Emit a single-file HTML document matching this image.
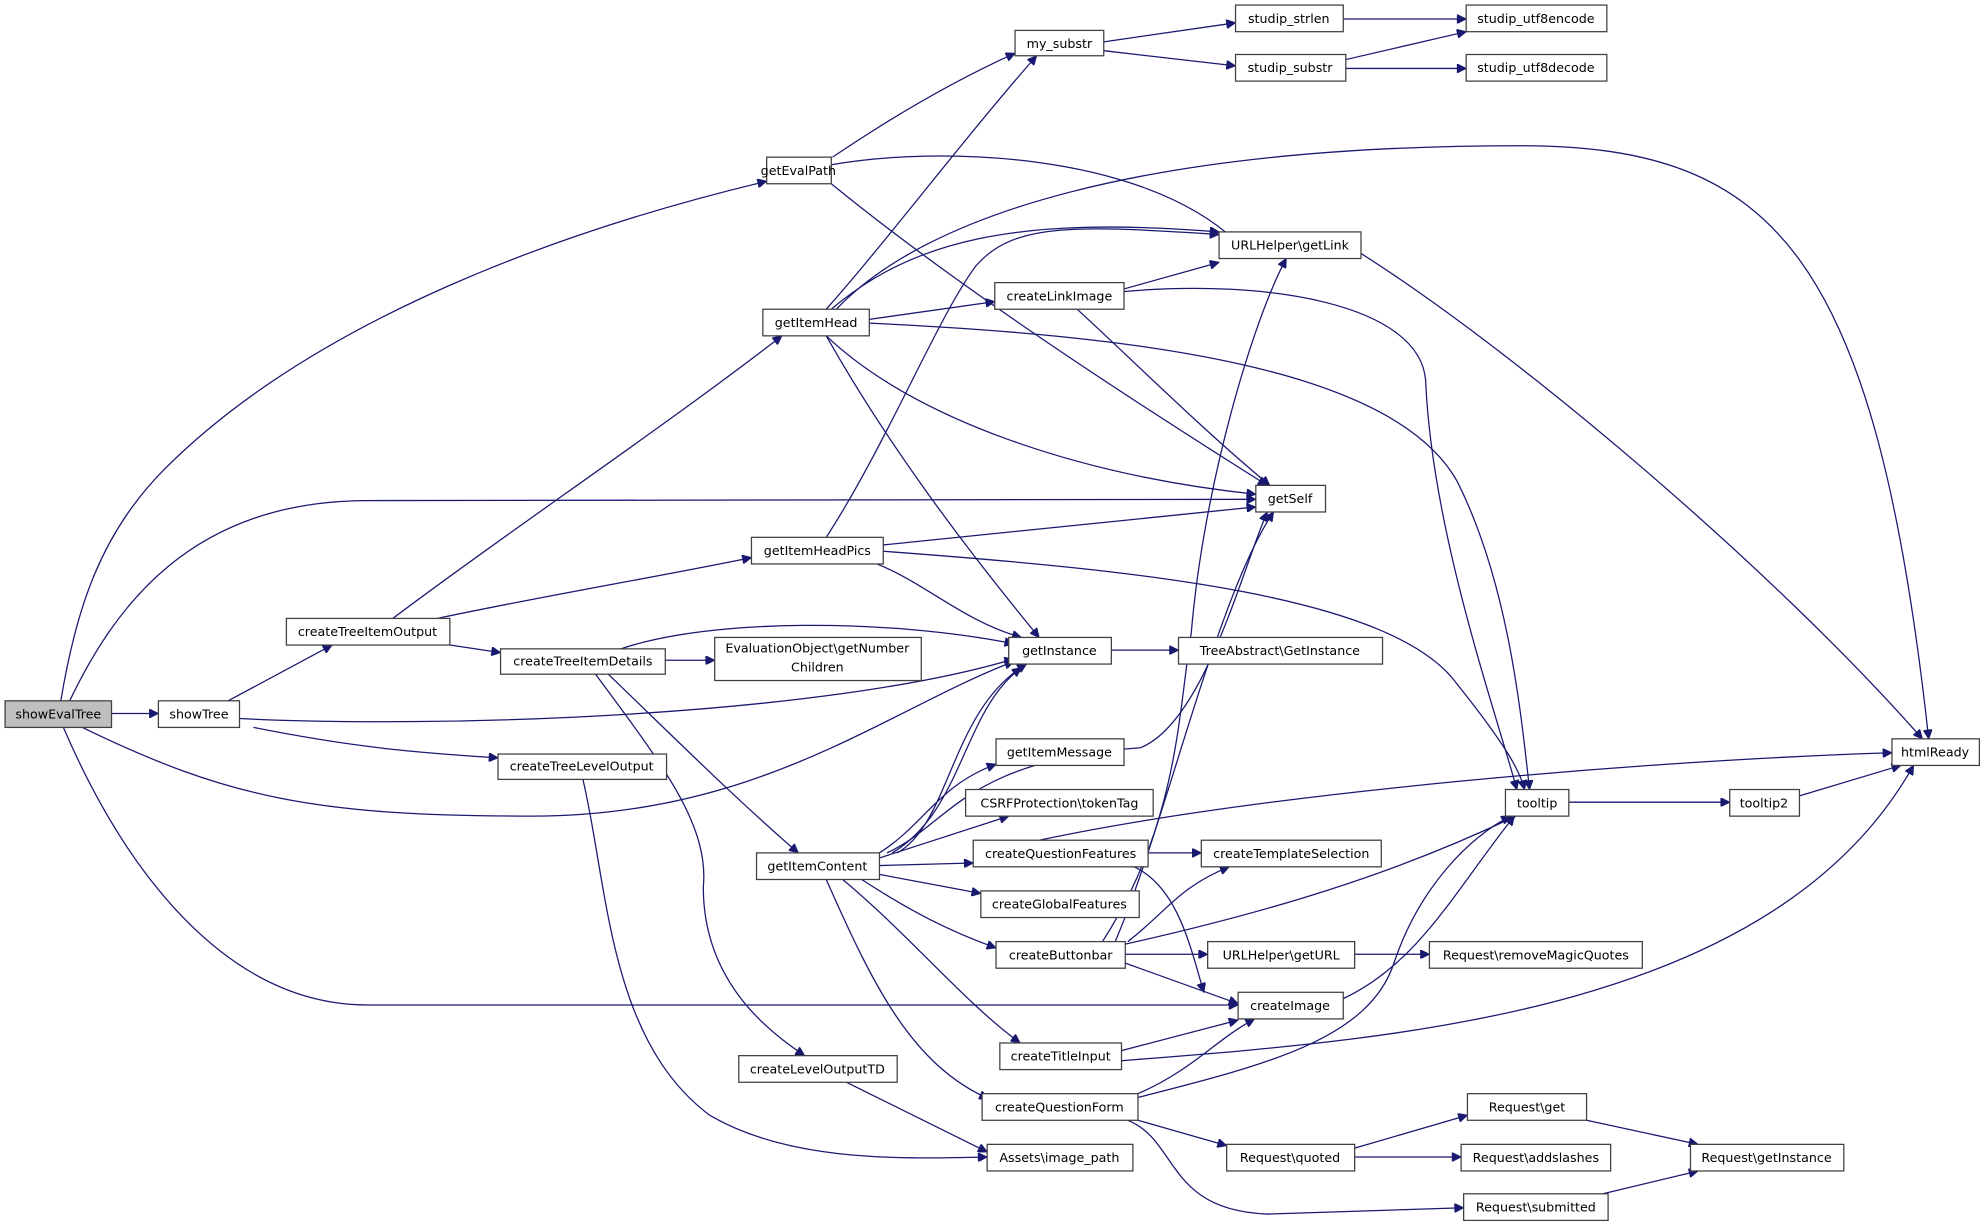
<!DOCTYPE html>
<html><head><meta charset="utf-8"><style>
html,body{margin:0;padding:0;background:#fff;}
svg{display:block;}
text{font-family:"DejaVu Sans","Liberation Sans",sans-serif;font-size:10px;fill:#000;text-anchor:middle;}
rect{fill:#fff;stroke:#404040;stroke-width:1;}
path{fill:none;stroke:#191970;stroke-width:1;}
</style></head><body>
<svg width="1987" height="1228" viewBox="0 0 1568 969" preserveAspectRatio="none" xmlns="http://www.w3.org/2000/svg">
<defs><marker id="a" viewBox="0 0 10 10" refX="10" refY="5" markerWidth="9" markerHeight="7" orient="auto" markerUnits="userSpaceOnUse"><path d="M0,0 L10,5 L0,10 z" style="fill:#191970;stroke:#191970"/></marker></defs>
<g marker-end="url(#a)">
<path d="M88,563 L125,563"/>
<path d="M48,553 C60,480 80,420 130,370 C250,250 450,180 605,143"/>
<path d="M55,553 C90,480 150,395 290,395 L991,394"/>
<path d="M65,574 C180,630 250,644 420,644 C600,644 700,560 800,522"/>
<path d="M50,574 C100,690 180,793 290,793 L977,793"/>
<path d="M180,553 L262,509"/>
<path d="M189,567 C350,575 650,565 800,520"/>
<path d="M200,574 C280,590 330,594 393,598"/>
<path d="M310,488 C400,420 520,340 617,265"/>
<path d="M345,488 C430,470 520,455 593,440"/>
<path d="M355,509 L395,515"/>
<path d="M490,512 C560,488 700,488 800,508"/>
<path d="M525,521 L564,521"/>
<path d="M480,532 C530,580 580,630 630,673"/>
<path d="M470,532 C520,600 560,650 555,700 C555,770 600,810 635,833"/>
<path d="M460,615 C480,700 480,820 560,880 C620,915 700,915 779,913"/>
<path d="M657,124 C700,95 750,65 801,42"/>
<path d="M656,130 C740,115 900,120 975,190"/>
<path d="M656,145 C760,230 900,320 1000,383"/>
<path d="M652,244 C700,190 760,110 818,44"/>
<path d="M660,244 C730,170 900,115 1200,115 C1400,115 1480,200 1522,583"/>
<path d="M656,244 C720,190 800,170 962,183"/>
<path d="M686,252 L785,238"/>
<path d="M686,255 C900,265 1100,290 1150,380 C1190,460 1200,560 1207,623"/>
<path d="M652,265 C720,330 850,375 991,390"/>
<path d="M652,265 C700,350 760,430 820,503"/>
<path d="M652,424 C700,350 740,250 770,210 C800,175 850,178 962,185"/>
<path d="M697,430 L991,400"/>
<path d="M692,445 C730,460 760,490 806,503"/>
<path d="M697,435 C900,450 1100,470 1150,540 C1190,590 1200,610 1203,623"/>
<path d="M871,33 L975,18"/>
<path d="M871,40 L975,52"/>
<path d="M1060,15 L1157,15"/>
<path d="M1062,47 L1157,25"/>
<path d="M1062,54 L1157,54"/>
<path d="M1074,200 C1200,280 1400,450 1517,583"/>
<path d="M887,228 L962,207"/>
<path d="M887,230 C1000,220 1120,240 1125,300 C1130,420 1180,560 1197,623"/>
<path d="M850,244 C900,290 950,340 1002,383"/>
<path d="M877,513 L930,513"/>
<path d="M708,673 C750,650 750,560 810,524"/>
<path d="M704,673 C760,640 760,560 806,527"/>
<path d="M700,673 C750,650 760,600 900,590 C950,570 980,450 1000,404"/>
<path d="M694,673 C730,650 740,620 786,603"/>
<path d="M694,677 L796,644"/>
<path d="M694,683 L768,681"/>
<path d="M694,690 L774,705"/>
<path d="M680,694 C720,720 750,735 786,748"/>
<path d="M665,694 C720,740 760,790 805,823"/>
<path d="M652,694 C690,780 720,840 780,867"/>
<path d="M820,663 C1000,625 1300,600 1493,594"/>
<path d="M906,673 L948,673"/>
<path d="M895,684 C930,700 940,750 950,783"/>
<path d="M870,743 C930,650 930,560 940,500 C950,380 990,250 1015,204"/>
<path d="M880,743 C920,650 960,470 1005,404"/>
<path d="M890,743 C920,720 930,700 970,684"/>
<path d="M888,745 C1000,720 1100,690 1196,644"/>
<path d="M888,753 L953,753"/>
<path d="M888,760 L977,792"/>
<path d="M1069,753 L1128,753"/>
<path d="M885,829 L977,805"/>
<path d="M885,837 C1100,820 1400,800 1510,604"/>
<path d="M898,863 C940,845 960,820 990,804"/>
<path d="M898,866 C1000,840 1080,820 1100,760 C1120,700 1160,660 1192,644"/>
<path d="M898,884 L968,904"/>
<path d="M890,884 C930,900 920,955 1000,958 L1155,953"/>
<path d="M668,854 L779,909"/>
<path d="M1060,788 C1120,760 1150,700 1195,644"/>
<path d="M1238,633 L1365,633"/>
<path d="M1420,628 L1500,604"/>
<path d="M1069,906 L1158,880"/>
<path d="M1069,913 L1153,913"/>
<path d="M1252,884 L1340,903"/>
<path d="M1265,942 L1340,924"/>
</g>
<g>
<rect x="4" y="553" width="84" height="21" style="fill:#bfbfbf"/><text x="46" y="567">showEvalTree</text>
<rect x="125" y="553" width="64" height="21"/><text x="157" y="567">showTree</text>
<rect x="226" y="488" width="129" height="21"/><text x="290" y="502">createTreeItemOutput</text>
<rect x="395" y="512" width="130" height="20"/><text x="460" y="525">createTreeItemDetails</text>
<rect x="393" y="595" width="133" height="20"/><text x="459" y="608">createTreeLevelOutput</text>
<rect x="605" y="124" width="51" height="21"/><text x="630" y="138">getEvalPath</text>
<rect x="602" y="244" width="84" height="21"/><text x="644" y="258">getItemHead</text>
<rect x="593" y="424" width="104" height="21"/><text x="645" y="438">getItemHeadPics</text>
<rect x="597" y="673" width="97" height="21"/><text x="645" y="687">getItemContent</text>
<rect x="583" y="833" width="125" height="21"/><text x="645" y="847">createLevelOutputTD</text>
<rect x="801" y="24" width="70" height="20"/><text x="836" y="38">my_substr</text>
<rect x="975" y="4" width="85" height="21"/><text x="1017" y="18">studip_strlen</text>
<rect x="975" y="43" width="87" height="21"/><text x="1018" y="57">studip_substr</text>
<rect x="1157" y="4" width="111" height="21"/><text x="1212" y="18">studip_utf8encode</text>
<rect x="1157" y="43" width="111" height="21"/><text x="1212" y="57">studip_utf8decode</text>
<rect x="962" y="183" width="112" height="21"/><text x="1018" y="197">URLHelper\getLink</text>
<rect x="785" y="223" width="102" height="21"/><text x="836" y="237">createLinkImage</text>
<rect x="991" y="383" width="55" height="21"/><text x="1018" y="397">getSelf</text>
<rect x="796" y="503" width="81" height="21"/><text x="836" y="517">getInstance</text>
<rect x="930" y="503" width="161" height="21"/><text x="1010" y="517">TreeAbstract\GetInstance</text>
<rect x="564" y="503" width="163" height="34"/><text x="645" y="515">EvaluationObject\getNumber</text><text x="645" y="530">Children</text>
<rect x="786" y="583" width="101" height="21"/><text x="836" y="597">getItemMessage</text>
<rect x="762" y="623" width="148" height="21"/><text x="836" y="637">CSRFProtection\tokenTag</text>
<rect x="768" y="663" width="138" height="21"/><text x="837" y="677">createQuestionFeatures</text>
<rect x="774" y="703" width="125" height="21"/><text x="836" y="717">createGlobalFeatures</text>
<rect x="786" y="743" width="102" height="21"/><text x="837" y="757">createButtonbar</text>
<rect x="789" y="823" width="96" height="21"/><text x="837" y="837">createTitleInput</text>
<rect x="775" y="863" width="123" height="21"/><text x="836" y="877">createQuestionForm</text>
<rect x="779" y="903" width="115" height="21"/><text x="836" y="917">Assets\image_path</text>
<rect x="948" y="663" width="142" height="21"/><text x="1019" y="677">createTemplateSelection</text>
<rect x="953" y="743" width="116" height="21"/><text x="1011" y="757">URLHelper\getURL</text>
<rect x="1128" y="743" width="168" height="21"/><text x="1212" y="757">Request\removeMagicQuotes</text>
<rect x="977" y="783" width="83" height="21"/><text x="1018" y="797">createImage</text>
<rect x="968" y="903" width="101" height="21"/><text x="1018" y="917">Request\quoted</text>
<rect x="1153" y="903" width="118" height="21"/><text x="1212" y="917">Request\addslashes</text>
<rect x="1158" y="863" width="94" height="21"/><text x="1205" y="877">Request\get</text>
<rect x="1334" y="903" width="121" height="21"/><text x="1394" y="917">Request\getInstance</text>
<rect x="1155" y="942" width="114" height="21"/><text x="1212" y="956">Request\submitted</text>
<rect x="1188" y="623" width="50" height="21"/><text x="1213" y="637">tooltip</text>
<rect x="1365" y="623" width="55" height="21"/><text x="1392" y="637">tooltip2</text>
<rect x="1493" y="583" width="69" height="21"/><text x="1527" y="597">htmlReady</text>
</g>
</svg>
</body></html>
